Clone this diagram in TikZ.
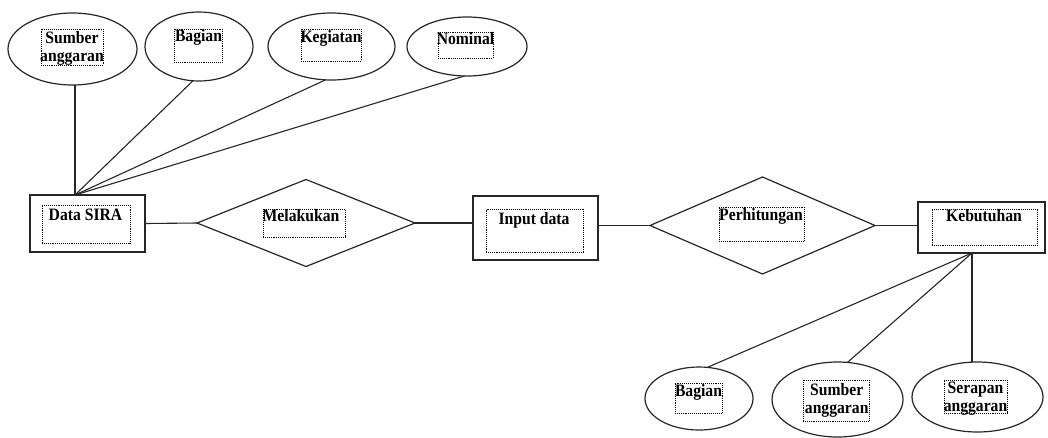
\documentclass[tikz,border=0pt]{standalone}
\usepackage{fontspec}
\setmainfont{Liberation Serif}[FakeStretch=0.9]
\usetikzlibrary{shapes.geometric}
\begin{document}
\begin{tikzpicture}[x=1pt,y=-1pt,
  entity/.style={draw=black!85, line width=1.5pt, rectangle, inner sep=0pt, outer sep=0pt},
  attr/.style={draw=black!85, line width=1.2pt, ellipse, inner sep=0pt, outer sep=0pt},
  rel/.style={draw=black!85, line width=1.2pt, diamond, inner sep=0pt, outer sep=0pt},
  tbox/.style={draw=black, densely dotted, line width=0.9pt, rectangle, inner sep=0pt, outer sep=0pt},
  lbl/.style={font=\bfseries\fontsize{17.4}{18.4}\selectfont, inner sep=0pt, anchor=base},
  link/.style={draw=black!85, line width=1.1pt}]
\useasboundingbox (0,0) rectangle (1048,437);

% attributes of Data SIRA
\node[attr, minimum width=129, minimum height=72] (e1) at (72.5,49) {};
\node[attr, minimum width=108, minimum height=69] (e2) at (199,46.5) {};
\node[attr, minimum width=127, minimum height=67] (e3) at (331.5,46.5) {};
\node[attr, minimum width=120, minimum height=59] (e4) at (467,46.5) {};
\node[tbox, minimum width=62, minimum height=36] (b1) at (72,47) {};
\node[tbox, minimum width=48, minimum height=33] (b2) at (198,45.5) {};
\node[tbox, minimum width=60, minimum height=32] (b3) at (331,45) {};
\node[tbox, minimum width=55, minimum height=26] (b4) at (465.5,45) {};
\node[lbl] (t1a) at (72,43.3) {Sumber};
\node[lbl] (t1b) at (72,61.7) {anggaran};
\node[lbl] (t2) at (198.5,41.7) {Bagian};
\node[lbl] (t3) at (331,42.7) {Kegiatan};
\node[lbl] (t4) at (465.5,44) {Nominal};

% entities and relationships
\node[entity, minimum width=115, minimum height=57] (dsira) at (87.5,223.5) {};
\node[tbox, minimum width=88, minimum height=38] (b5) at (86,224) {};
\node[lbl] (t5) at (85.5,220.7) {Data SIRA};

\node[rel, minimum width=218, minimum height=87] (mel) at (306,223) {};
\node[tbox, minimum width=82, minimum height=28] (b6) at (304,223) {};
\node[lbl] (t6) at (301,221.5) {Melakukan};

\node[entity, minimum width=125, minimum height=64] (inp) at (535.5,228) {};
\node[tbox, minimum width=97, minimum height=43] (b7) at (534.5,230.5) {};
\node[lbl] (t7) at (534,224) {Input data};

\node[rel, minimum width=225, minimum height=97] (per) at (762.5,225.5) {};
\node[tbox, minimum width=85, minimum height=34] (b8) at (761.5,224) {};
\node[lbl] (t8) at (761,220) {Perhitungan};

\node[entity, minimum width=127, minimum height=51] (keb) at (981.5,227.5) {};
\node[tbox, minimum width=105, minimum height=36] (b9) at (984.5,227) {};
\node[lbl] (t9) at (984,221.7) {Kebutuhan};

% attributes of Kebutuhan
\node[attr, minimum width=108, minimum height=63] (e5) at (699,398.5) {};
\node[attr, minimum width=131, minimum height=75] (e6) at (837.5,399.5) {};
\node[attr, minimum width=131, minimum height=70] (e7) at (977.5,397) {};
\node[tbox, minimum width=47, minimum height=30] (b10) at (698.5,398) {};
\node[tbox, minimum width=66, minimum height=41] (b11) at (836,400.5) {};
\node[tbox, minimum width=63, minimum height=33] (b12) at (975.5,396.5) {};
\node[lbl] (t10) at (698.5,396.7) {Bagian};
\node[lbl] (t11a) at (836.7,395) {Sumber};
\node[lbl] (t11b) at (836.7,413.3) {anggaran};
\node[lbl] (t12a) at (975.5,393.3) {Serapan};
\node[lbl] (t12b) at (975.5,411.7) {anggaran};

% connectors
\coordinate (dtop) at ([xshift=-12.5]dsira.north);
\coordinate (kbot) at ([xshift=-9.5]keb.south);

\draw[link] (e1.south -| dtop) -- (dtop);
\draw[link] (e2.260) -- (dtop);
\draw[link] (e3.260) -- (dtop);
\draw[link] (e4.265) -- (dtop);

\draw[link] (dsira.east) -- (mel.west);
\draw[link] (mel.east) -- (mel.east -| inp.west);
\draw[link] (per.west -| inp.east) -- (per.west);
\draw[link] (per.east) -- (per.east -| keb.west);

\draw[link] (kbot) -- (e5.75);
\draw[link] (kbot) -- (e6.75);
\draw[link] (kbot) -- (kbot |- e7.north);
\end{tikzpicture}
\end{document}
